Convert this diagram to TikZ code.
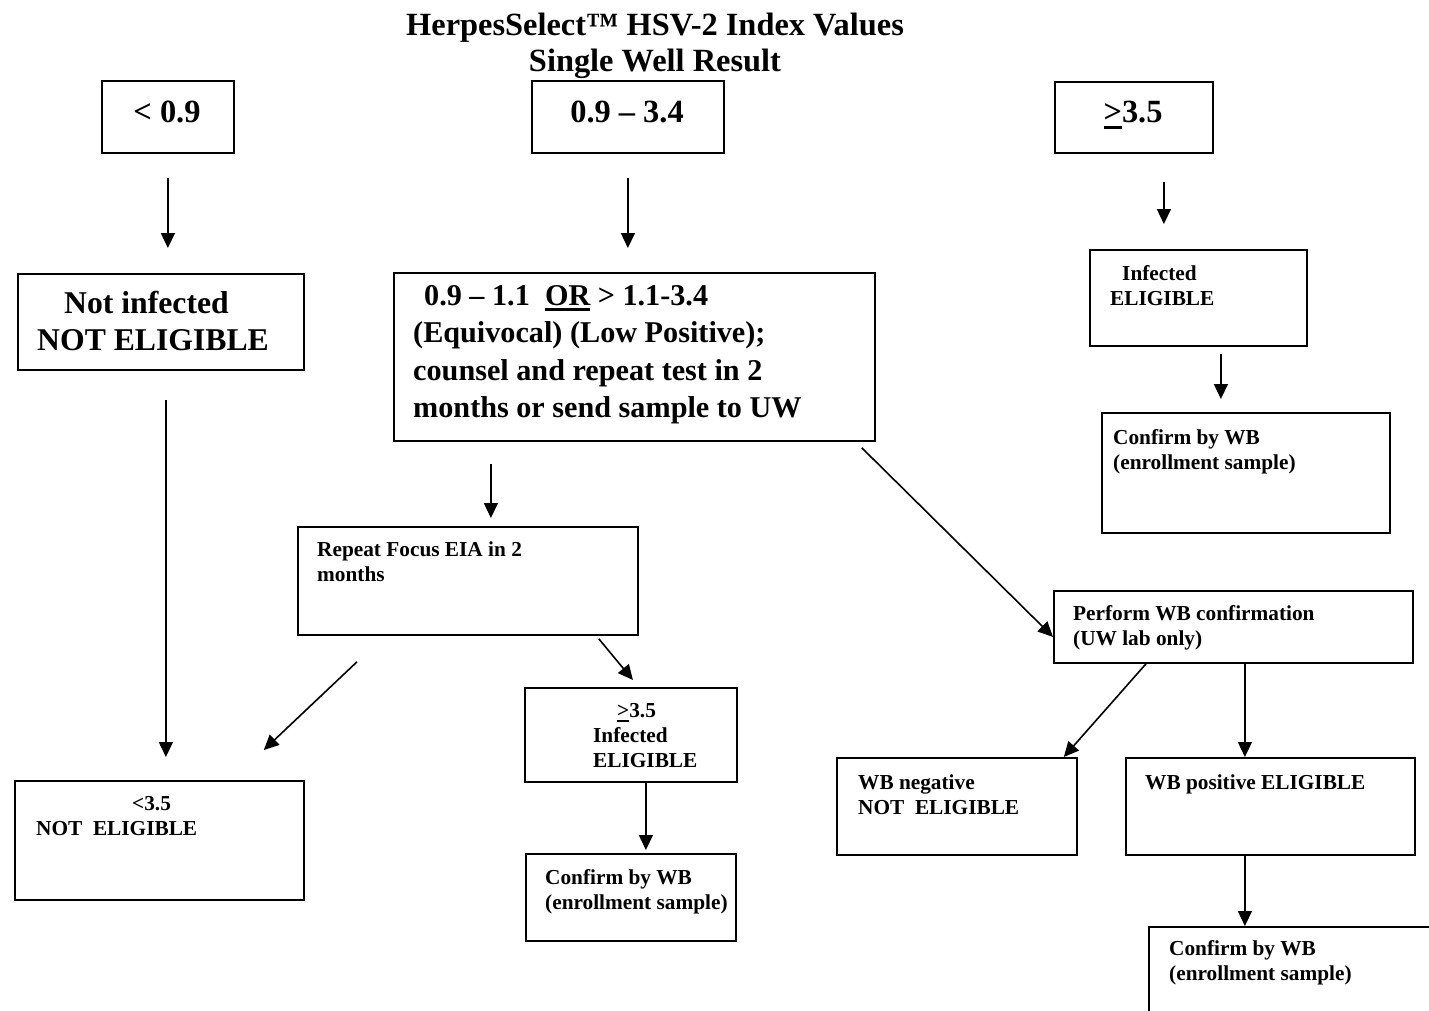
\documentclass[tikz,border=0pt]{standalone}
\usepackage{fontspec}
\setmainfont{Liberation Serif}
\usetikzlibrary{arrows.meta}
\newcommand{\ulmark}[3]{\leavevmode\setbox0\hbox{#3}\rlap{\rule[-#1]{\wd0}{#2}}\box0\relax}
\begin{document}
\begin{tikzpicture}[x=1pt,y=-1pt,
    box/.style={draw,line width=1.8pt,inner sep=0pt,anchor=north west},
    arr/.style={line width=1.6pt,-{Triangle[length=15pt,width=14pt]}},
    headtxt/.style={font=\bfseries\fontsize{32.4}{36}\selectfont,inner sep=0pt,align=center,anchor=base},
    bigtxt/.style={font=\bfseries\fontsize{32.4}{32}\selectfont,inner sep=0pt,anchor=base},
    midtxt/.style={font=\bfseries\fontsize{30.2}{37.5}\selectfont,inner sep=0pt,align=left,anchor=base west},
    smalltxt/.style={font=\bfseries\fontsize{21.3}{25}\selectfont,inner sep=0pt,align=left,anchor=base west}]
    \useasboundingbox (0,0) rectangle (1429,1010);
    % heading (multi-line nodes sit on their last baseline)
    \node[headtxt] (head) at (655,71) {HerpesSelect™ HSV-2 Index Values\\Single Well Result};
    % top row
    \node[box,minimum width=132pt,minimum height=72pt] (lt) at (101,80) {};
    \node[box,minimum width=192pt,minimum height=72pt] (mid) at (531,80) {};
    \node[box,minimum width=158pt,minimum height=71pt] (ge) at (1054,81) {};
    \node[bigtxt] (lttxt) at (167,122) {< 0.9};
    \node[bigtxt] (midtxt) at (627,122) {0.9 -- 3.4};
    \node[bigtxt] (getxt) at (1133,122) {\ulmark{7pt}{3.5pt}{>}3.5};
    % second row
    \node[box,minimum width=286pt,minimum height=96pt] (notinf) at (17,273) {};
    \node[box,minimum width=481pt,minimum height=168pt] (equiv) at (393,272) {};
    \node[box,minimum width=217pt,minimum height=96pt] (inf) at (1089,249) {};
    \node[midtxt,font=\bfseries\fontsize{31.7}{37}\selectfont] (notinftxt) at (37,350)
        {\hspace*{27pt}Not infected\\NOT ELIGIBLE};
    \node[midtxt] (equivtxt) at (413,417.5)
        {\hspace*{11pt}0.9 -- 1.1~~\ulmark{6pt}{3pt}{OR} > 1.1-3.4\\(Equivocal) (Low Positive);\\counsel and repeat test in 2\\months or send sample to UW};
    \node[smalltxt] (inftxt) at (1110,305) {\hspace*{12pt}Infected\\ELIGIBLE};
    \node[box,minimum width=288pt,minimum height=120pt] (conf1) at (1101,412) {};
    \node[smalltxt] (conf1txt) at (1113,469) {Confirm by WB\\(enrollment sample)};
    % middle
    \node[box,minimum width=340pt,minimum height=108pt] (rep) at (297,526) {};
    \node[smalltxt] (reptxt) at (317,581) {Repeat Focus EIA in 2\\months};
    \node[box,minimum width=359pt,minimum height=72pt] (perf) at (1053,590) {};
    \node[smalltxt] (perftxt) at (1073,645) {Perform WB confirmation\\(UW lab only)};
    % lower rows
    \node[box,minimum width=289pt,minimum height=119pt] (below) at (14,780) {};
    \node[smalltxt] (belowtxt) at (36,835) {\hspace*{96pt}<3.5\\NOT~~ELIGIBLE};
    \node[box,minimum width=212pt,minimum height=94pt] (inf2) at (524,687) {};
    \node[smalltxt] (inf2txt) at (593,767) {\hspace*{24pt}\ulmark{5pt}{2.5pt}{>}3.5\\Infected\\ELIGIBLE};
    \node[box,minimum width=210pt,minimum height=87pt] (conf2) at (525,853) {};
    \node[smalltxt] (conf2txt) at (545,909) {Confirm by WB\\(enrollment sample)};
    \node[box,minimum width=240pt,minimum height=97pt] (neg) at (836,757) {};
    \node[smalltxt] (negtxt) at (858,814) {WB negative\\NOT~~ELIGIBLE};
    \node[box,minimum width=289pt,minimum height=97pt] (pos) at (1125,757) {};
    \node[smalltxt] (postxt) at (1145,789) {WB positive ELIGIBLE};
    \begin{scope}
        \clip (0,0) rectangle (1429,1010);
        \node[box,minimum width=290pt,minimum height=100pt] (conf3) at (1148,926) {};
    \end{scope}
    \node[smalltxt] (conf3txt) at (1169,980) {Confirm by WB\\(enrollment sample)};
    % arrows
    \draw[arr,shorten <=24pt,shorten >=25pt] (lt.south) -- (lt.south |- notinf.north);
    \draw[arr,shorten <=24pt,shorten >=24pt] (mid.south) -- (mid.south |- equiv.north);
    \draw[arr,shorten <=28pt,shorten >=25pt] ([xshift=30pt]ge.south) -- ([xshift=30pt]ge.south |- inf.north);
    \draw[arr,shorten <=7pt,shorten >=13pt] ([xshift=22.5pt]inf.south) -- ([xshift=22.5pt]inf.south |- conf1.north);
    \draw[arr,shorten <=22pt,shorten >=8pt] ([xshift=23pt]rep.north |- equiv.south) -- ([xshift=23pt]rep.north);
    \draw[arr] ([xshift=-14pt,yshift=-6pt]equiv.south east) -- ([yshift=-10pt]perf.west);
    \draw[arr,shorten <=29pt,shorten >=23pt] ([xshift=5pt]notinf.south) -- ([xshift=5pt]notinf.south |- below.north);
    \draw[arr] ([xshift=60pt,yshift=-26pt]rep.south west) -- ([xshift=-41pt,yshift=30pt]below.north east);
    \draw[arr] ([xshift=-40pt,yshift=-3pt]rep.south east) -- ([xshift=2pt,yshift=7pt]inf2.north);
    \draw[arr,shorten >=3pt] ([xshift=15pt]inf2.south) -- ([xshift=15pt]inf2.south |- conf2.north);
    \draw[arr] ([xshift=93pt]perf.south west) -- ([xshift=-14pt]neg.north east);
    \draw[arr] ([xshift=11.5pt]perf.south) -- ([xshift=11.5pt]perf.south |- pos.north);
    \draw[arr] ([xshift=-25.5pt]pos.south) -- ([xshift=-25.5pt]pos.south |- conf3.north);
\end{tikzpicture}
\end{document}
